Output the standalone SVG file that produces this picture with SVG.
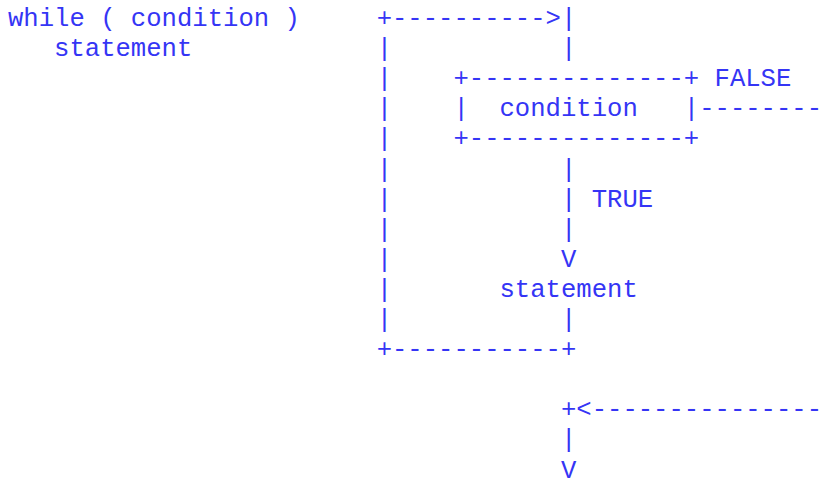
<svg xmlns="http://www.w3.org/2000/svg" width="825" height="478" viewBox="0 0 825 478">
<style>
text{font-family:"Liberation Mono","Courier New",monospace;font-size:25.6px;fill:#3535f5;white-space:pre}
</style>
<rect width="825" height="478" fill="#ffffff"/>
<g id="code">
<text x="8" y="26">while ( condition )</text>
<text x="54.08" y="56.1">statement</text>
</g>
<g id="condition">
<text x="453.44" y="86.2">+--------------+</text>
<text x="453.44" y="116.3" xml:space="preserve">|  condition   |</text>
<text x="453.44" y="146.4">+--------------+</text>
</g>
<g id="statement">
<text x="499.52" y="296.9">statement</text>
</g>
<g id="labels">
<text x="714.56" y="86.2">FALSE</text>
<text x="591.68" y="206.6">TRUE</text>
</g>
<g id="connectors">
<text x="376.64" y="26">+----------&gt;|</text>
<text x="376.64" y="56.1">|</text>
<text x="376.64" y="86.2">|</text>
<text x="376.64" y="116.3">|</text>
<text x="376.64" y="146.4">|</text>
<text x="376.64" y="176.5">|</text>
<text x="376.64" y="206.6">|</text>
<text x="376.64" y="236.7">|</text>
<text x="376.64" y="266.8">|</text>
<text x="376.64" y="296.9">|</text>
<text x="376.64" y="327">|</text>
<text x="376.64" y="357.1">+-----------+</text>
<text x="560.96" y="56.1">|</text>
<text x="699.2" y="116.3">----------</text>
<text x="560.96" y="176.5">|</text>
<text x="560.96" y="206.6">|</text>
<text x="560.96" y="236.7">|</text>
<text x="560.96" y="266.8">V</text>
<text x="560.96" y="327">|</text>
<text x="560.96" y="417.3">+&lt;----------------</text>
<text x="560.96" y="447.4">|</text>
<text x="560.96" y="477.5">V</text>
</g>
</svg>
